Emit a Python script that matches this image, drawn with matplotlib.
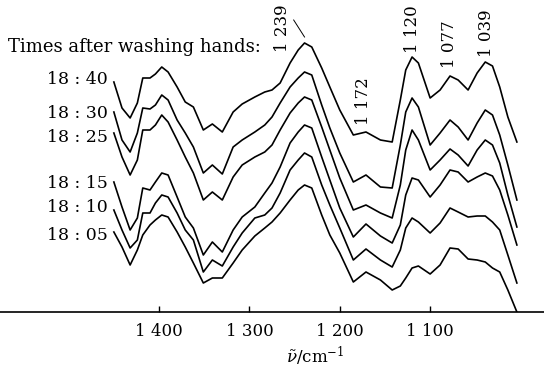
import matplotlib
matplotlib.use("Agg")
import matplotlib.pyplot as plt

plt.rcParams['font.family'] = 'DejaVu Serif'
plt.rcParams['mathtext.fontset'] = 'dejavuserif'

# wavenumbers (cm^-1) and the six traces (arbitrary units, stacked)
wn = [1450, 1441, 1432, 1424, 1418, 1410, 1404, 1397, 1390, 1380,
      1371, 1362, 1351, 1341, 1330, 1318, 1308, 1294, 1283, 1275,
      1266, 1255, 1246, 1239, 1231, 1220, 1211, 1200, 1185, 1171,
      1155, 1142, 1133, 1127, 1120, 1113, 1100, 1089, 1078, 1069,
      1058, 1048, 1039, 1031, 1023, 1014, 1004]

t1840 = [230, 204, 194, 209, 234, 234, 238, 245, 240, 225,
         210, 205, 182, 188, 180, 200, 208, 215, 220, 222,
         229, 249, 262, 269, 265, 244, 225, 202, 177, 180,
         172, 170, 212, 242, 255, 249, 214, 222, 236, 232,
         222, 239, 250, 246, 225, 195, 170]
t1830 = [200, 172, 160, 179, 204, 203, 207, 217, 212, 192,
         179, 165, 139, 147, 138, 165, 172, 180, 187, 195,
         209, 225, 234, 240, 237, 207, 184, 159, 130, 137,
         125, 124, 167, 200, 214, 205, 167, 179, 192, 185,
         172, 189, 202, 197, 177, 147, 112]
t1825 = [179, 155, 137, 152, 182, 182, 187, 197, 190, 172,
         155, 139, 112, 120, 112, 135, 147, 155, 160, 167,
         182, 199, 209, 215, 212, 185, 162, 134, 102, 107,
         99, 94, 127, 162, 182, 172, 142, 152, 163, 157,
         146, 162, 172, 167, 149, 117, 85]
t1815 = [130, 105, 82, 94, 124, 122, 130, 139, 137, 115,
         95, 84, 57, 70, 60, 82, 95, 105, 119, 129,
         145, 169, 180, 187, 184, 155, 132, 104, 75, 88,
         76, 69, 87, 117, 134, 132, 115, 127, 142, 140,
         130, 135, 139, 136, 122, 97, 67]
t1810 = [102, 82, 64, 72, 99, 99, 109, 117, 115, 99,
         82, 72, 40, 52, 46, 65, 79, 94, 97, 104,
         119, 142, 152, 159, 155, 127, 107, 84, 52, 63,
         52, 45, 62, 84, 94, 90, 79, 89, 104, 100,
         95, 96, 96, 90, 82, 57, 29]
t1805 = [80, 65, 47, 62, 77, 87, 92, 97, 95, 80,
         65, 49, 29, 34, 34, 49, 62, 76, 84, 90,
         99, 112, 122, 127, 124, 97, 77, 59, 30, 40,
         32, 22, 26, 34, 44, 46, 38, 47, 64, 63,
         53, 52, 50, 44, 40, 22, 0]

traces = [t1840, t1830, t1825, t1815, t1810, t1805]
times = ['18 : 40', '18 : 30', '18 : 25', '18 : 15', '18 : 10', '18 : 05']
time_y = [232, 199, 175, 128, 104, 76]

peak_labels = ['1 239', '1 172', '1 120', '1 077', '1 039']
peak_x = [1263, 1174, 1119, 1079, 1038]
peak_y = [260, 187, 259, 244, 255]

ticks = [1400, 1300, 1200, 1100]
tick_labels = ['1 400', '1 300', '1 200', '1 100']

fig = plt.figure(figsize=(5.44, 3.68), dpi=100)
ax = fig.add_axes([0, 56 / 368, 1, 312 / 368])

for y in traces:
    ax.plot(wn, y, color='black', lw=1.2, solid_joinstyle='round')

for s, yy in zip(times, time_y):
    ax.text(1457, yy, s, ha='right', va='center', fontsize=12.5)

for s, xx, yy in zip(peak_labels, peak_x, peak_y):
    ax.text(xx, yy, s, rotation=90, ha='center', va='bottom', fontsize=12)
# leader line for 1 239
ax.plot([1251, 1239], [292, 275], color='black', lw=0.7)

fig.text(8 / 544, 1 - 47 / 368, 'Times after washing hands:', ha='left',
         va='center', fontsize=13)

ax.set_xlim(1576, 974)
ax.set_ylim(0, 312)
for side in ['top', 'left', 'right']:
    ax.spines[side].set_visible(False)
ax.spines['bottom'].set_linewidth(1.2)
ax.set_yticks([])
ax.set_xticks(ticks)
ax.set_xticklabels(tick_labels, fontsize=12)
ax.tick_params(axis='x', direction='in', length=4, width=1, pad=8)
ax.set_xlabel(r'$\tilde{\nu}$/cm$^{-1}$', fontsize=12)
ax.xaxis.set_label_coords(315 / 544, -0.105)
ax.patch.set_alpha(0)

fig.savefig('out.png', dpi=100)
